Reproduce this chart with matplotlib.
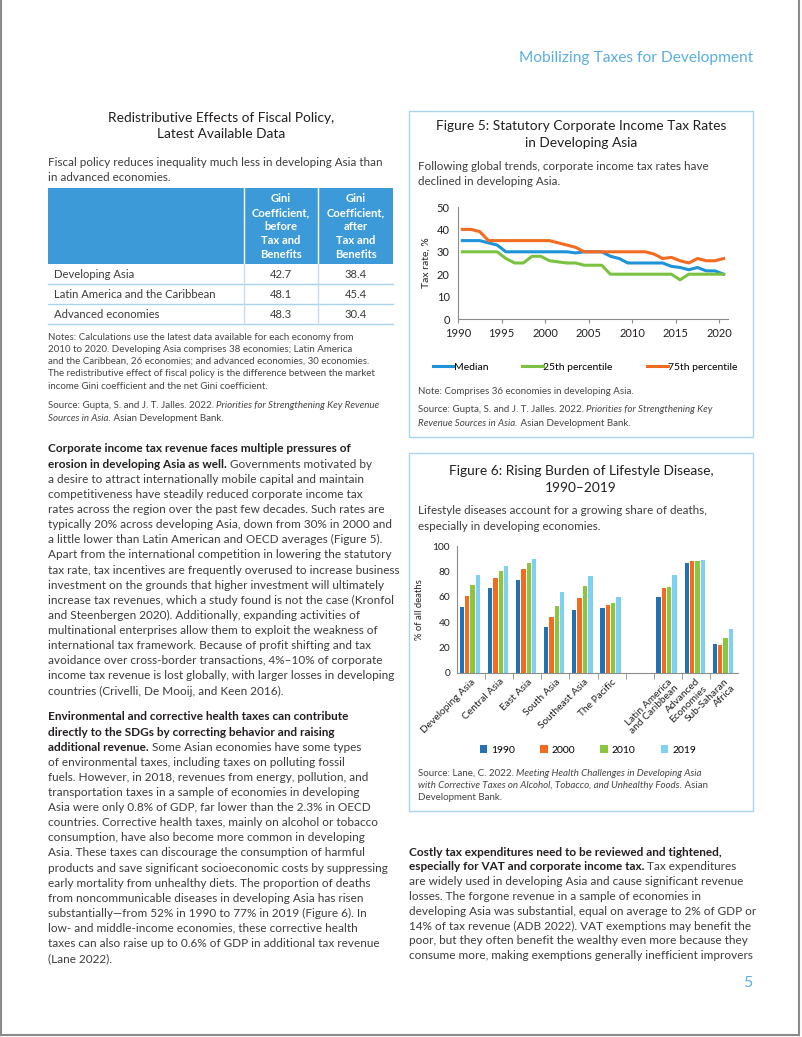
import matplotlib
matplotlib.use("Agg")
import matplotlib.pyplot as plt
from matplotlib.patches import Rectangle
import numpy as np

plt.rcParams['font.family'] = ['Lato', 'DejaVu Sans']

W, H = 802, 1037

# table: redistributive effects of fiscal policy
table_rows = ["Developing Asia", "Latin America and the Caribbean", "Advanced economies"]
gini_before = [42.7, 48.1, 48.3]
gini_after = [38.4, 45.4, 30.4]

# figure 5: statutory CIT rates (%)
years = np.arange(1990, 2021)
cit_median = [35, 35, 35, 34, 33, 30, 30, 30, 30, 30, 30, 30, 30, 29.5, 30, 30,
              30, 28, 27, 25, 25, 25, 25, 25, 23.5, 23, 22, 23, 21.5, 21.5, 20]
cit_p25 = [30, 30, 30, 30, 30, 27, 25, 25, 28, 28, 26, 25.5, 25, 25, 24, 24,
           24, 20, 20, 20, 20, 20, 20, 20, 20, 17.5, 20, 20, 20, 20, 20]
cit_p75 = [40, 40, 39, 35, 35, 35, 35, 35, 35, 35, 35, 34, 33, 32, 30, 30,
           30, 30, 30, 30, 30, 30, 29, 27, 27.5, 26, 25, 27, 26, 26, 27]

# figure 6: share of deaths from lifestyle disease (%)
regions = ["Developing Asia", "Central Asia", "East Asia", "South Asia",
           "Southeast Asia", "The Pacific", "Latin America\nand Caribbean",
           "Advanced\nEconomies", "Sub-Saharan\nAfrica"]
deaths_1990 = [52, 67, 73.5, 36, 49.5, 51, 59.5, 86.5, 22.5]
deaths_2000 = [61, 75, 82, 44, 59, 53.5, 67, 88, 22]
deaths_2010 = [69, 80, 86.5, 53, 68.5, 55, 68, 88.5, 27.5]
deaths_2019 = [77, 84, 89.5, 64, 76, 60, 77, 89, 35]

DARK = "#231f20"
BODY = "#3c3c3c"
NOTE = "#454545"
BLUE_HEAD = "#5aaee0"
BOX = "#a9d4ee"
TITLE_SZ = 9.9
SUB_SZ = 8.4
BODY_SZ = 8.45
NOTE_SZ = 7.0

fig = plt.figure(figsize=(W / 100, H / 100), dpi=100)
page = fig.add_axes([0, 0, 1, 1])
page.set_xlim(0, W)
page.set_ylim(H, 0)
page.axis("off")
renderer = fig.canvas.get_renderer()


def rich(x, y, parts, size, color=BODY):
    # parts: list of (text, weight, style)
    for txt, weight, style in parts:
        c = DARK if weight == "bold" else color
        t = page.text(x, y, txt, fontsize=size, fontweight=weight, fontstyle=style,
                      color=c, va="center", ha="left")
        x += t.get_window_extent(renderer=renderer).width


def para(x, y0, step, lines, size, color=BODY):
    for i, ln in enumerate(lines):
        if isinstance(ln, str):
            ln = [(ln, "normal", "normal")]
        rich(x, y0 + i * step, ln, size, color)


def box_axes(left, top, right, bottom):
    return fig.add_axes([left / W, 1 - bottom / H, (right - left) / W, (bottom - top) / H])


# page frame and header
page.plot([1, 1], [0, H - 2], color="#8a8a8a", lw=1.5)
page.plot([W - 3, W - 3], [0, H - 2], color="#8a8a8a", lw=1.5)
page.plot([1, W - 3], [H - 2, H - 2], color="#8a8a8a", lw=1.5)
page.text(753, 58, "Mobilizing Taxes for Development", fontsize=11.2, color=BLUE_HEAD,
          ha="right", va="center")
page.text(752, 983, "5", fontsize=11.5, color=BLUE_HEAD, ha="right", va="center")

# ---- left column: table ----
page.text(221, 118, "Redistributive Effects of Fiscal Policy,", fontsize=TITLE_SZ, color=DARK,
          ha="center", va="center")
page.text(221, 134, "Latest Available Data", fontsize=TITLE_SZ, color=DARK, ha="center", va="center")
para(48, 162, 15.5, ["Fiscal policy reduces inequality much less in developing Asia than",
                     "in advanced economies."], SUB_SZ)

tl, tr, c1, c2 = 48, 393, 244, 318
page.add_patch(Rectangle((tl, 188), tr - tl, 76, color="#3d9ad8", lw=0))
page.plot([c1, c1], [188, 264], color="white", lw=1)
page.plot([c2, c2], [188, 264], color="white", lw=1)
head = ["Gini", "Coefficient,", "", "Tax and", "Benefits"]
for i, h in enumerate(head):
    yy = 199 + i * 14
    page.text((c1 + c2) / 2, yy, "before" if i == 2 else h, fontsize=8.1, fontweight="bold",
              color="white", ha="center", va="center")
    page.text((c2 + tr) / 2, yy, "after" if i == 2 else h, fontsize=8.1, fontweight="bold",
              color="white", ha="center", va="center")
for i, name in enumerate(table_rows):
    yc = 274 + i * 20
    page.text(54, yc, name, fontsize=8.1, color=BODY, va="center")
    page.text((c1 + c2) / 2, yc, f"{gini_before[i]:.1f}", fontsize=8.1, color=BODY,
              ha="center", va="center")
    page.text((c2 + tr) / 2, yc, f"{gini_after[i]:.1f}", fontsize=8.1, color=BODY,
              ha="center", va="center")
    page.plot([tl, tr], [284 + i * 20, 284 + i * 20], color=BOX, lw=1)
page.plot([c1, c1], [264, 324], color="#c8dcea", lw=1)
page.plot([c2, c2], [264, 324], color="#c8dcea", lw=1)

para(48, 337, 12.3, [
    "Notes: Calculations use the latest data available for each economy from",
    "2010 to 2020. Developing Asia comprises 38 economies; Latin America",
    "and the Caribbean, 26 economies; and advanced economies, 30 economies.",
    "The redistributive effect of fiscal policy is the difference between the market",
    "income Gini coefficient and the net Gini coefficient."], NOTE_SZ, NOTE)
para(48, 406, 12.3, [
    [("Source: Gupta, S. and J. T. Jalles. 2022. ", "normal", "normal"),
     ("Priorities for Strengthening Key Revenue", "normal", "italic")],
    [("Sources in Asia.", "normal", "italic"), (" Asian Development Bank.", "normal", "normal")]],
    NOTE_SZ, NOTE)

# ---- left column: body text ----
para(48, 449, 15.13, [
    [("Corporate income tax revenue faces multiple pressures of", "bold", "normal")],
    [("erosion in developing Asia as well.", "bold", "normal"),
     (" Governments motivated by", "normal", "normal")],
    "a desire to attract internationally mobile capital and maintain",
    "competitiveness have steadily reduced corporate income tax",
    "rates across the region over the past few decades. Such rates are",
    "typically 20% across developing Asia, down from 30% in 2000 and",
    "a little lower than Latin American and OECD averages (Figure 5).",
    "Apart from the international competition in lowering the statutory",
    "tax rate, tax incentives are frequently overused to increase business",
    "investment on the grounds that higher investment will ultimately",
    "increase tax revenues, which a study found is not the case (Kronfol",
    "and Steenbergen 2020). Additionally, expanding activities of",
    "multinational enterprises allow them to exploit the weakness of",
    "international tax framework. Because of profit shifting and tax",
    "avoidance over cross-border transactions, 4%\u201310% of corporate",
    "income tax revenue is lost globally, with larger losses in developing",
    "countries (Crivelli, De Mooij, and Keen 2016)."], BODY_SZ)

para(48, 717, 15.1, [
    [("Environmental and corrective health taxes can contribute", "bold", "normal")],
    [("directly to the SDGs by correcting behavior and raising", "bold", "normal")],
    [("additional revenue.", "bold", "normal"),
     (" Some Asian economies have some types", "normal", "normal")],
    "of environmental taxes, including taxes on polluting fossil",
    "fuels. However, in 2018, revenues from energy, pollution, and",
    "transportation taxes in a sample of economies in developing",
    "Asia were only 0.8% of GDP, far lower than the 2.3% in OECD",
    "countries. Corrective health taxes, mainly on alcohol or tobacco",
    "consumption, have also become more common in developing",
    "Asia. These taxes can discourage the consumption of harmful",
    "products and save significant socioeconomic costs by suppressing",
    "early mortality from unhealthy diets. The proportion of deaths",
    "from noncommunicable diseases in developing Asia has risen",
    "substantially\u2014from 52% in 1990 to 77% in 2019 (Figure 6). In",
    "low- and middle-income economies, these corrective health",
    "taxes can also raise up to 0.6% of GDP in additional tax revenue",
    "(Lane 2022)."], BODY_SZ)

# ---- right column: figure 5 ----
page.add_patch(Rectangle((409, 111), 344, 326, fill=False, ec=BOX, lw=1))
page.text(581, 126, "Figure 5: Statutory Corporate Income Tax Rates", fontsize=TITLE_SZ,
          color=DARK, ha="center", va="center")
page.text(581, 143, "in Developing Asia", fontsize=TITLE_SZ, color=DARK, ha="center", va="center")
para(418, 166, 15.5, ["Following global trends, corporate income tax rates have",
                      "declined in developing Asia."], SUB_SZ)

ax5 = box_axes(458, 207, 728, 319)
ax5.plot(years + 0.5, cit_median, color="#1e93d9", lw=2.2, label="Median")
ax5.plot(years + 0.5, cit_p25, color="#7cc242", lw=2.2, label="25th percentile")
ax5.plot(years + 0.5, cit_p75, color="#f26b21", lw=2.2, label="75th percentile")
ax5.set_xlim(1990, 2021)
ax5.set_ylim(0, 50)
ax5.set_xticks(range(1990, 2021, 5))
ax5.set_yticks(range(0, 51, 10))
for s in ["top", "right"]:
    ax5.spines[s].set_visible(False)
for s in ["left", "bottom"]:
    ax5.spines[s].set_color("#8c8c8c")
ax5.tick_params(axis="x", labelsize=8, colors="#8c8c8c", labelcolor=DARK, length=3)
ax5.tick_params(axis="y", labelsize=8, length=0, labelcolor=DARK, pad=6)
ax5.set_ylabel("Tax rate, %", fontsize=7.5, color=DARK, labelpad=4)
ax5.legend(loc="center", bbox_to_anchor=(585 / W, 1 - 367 / H), bbox_transform=fig.transFigure,
           ncol=3, frameon=False, fontsize=7.5, handlelength=2.0, handletextpad=0.0,
           columnspacing=3.3)
para(418, 391, 13, ["Note: Comprises 36 economies in developing Asia."], NOTE_SZ, NOTE)
para(418, 410, 13, [
    [("Source: Gupta, S. and J. T. Jalles. 2022. ", "normal", "normal"),
     ("Priorities for Strengthening Key", "normal", "italic")],
    [("Revenue Sources in Asia.", "normal", "italic"), (" Asian Development Bank.", "normal", "normal")]],
    NOTE_SZ, NOTE)

# ---- right column: figure 6 ----
page.add_patch(Rectangle((409, 453), 344, 358, fill=False, ec=BOX, lw=1))
page.text(581, 471, "Figure 6: Rising Burden of Lifestyle Disease,", fontsize=TITLE_SZ,
          color=DARK, ha="center", va="center")
page.text(581, 488, "1990\u20132019", fontsize=TITLE_SZ, color=DARK, ha="center", va="center")
para(418, 511, 15.5, ["Lifestyle diseases account for a growing share of deaths,",
                      "especially in developing economies."], SUB_SZ)

ax6 = box_axes(457, 546, 738, 673)
idx = np.arange(len(regions))
pos = idx + (idx >= 6)  # empty slot between Asia and other regions
bw, pitch = 0.155, 0.19
series = [(deaths_1990, "#2271b3", "1990"), (deaths_2000, "#f26b21", "2000"),
          (deaths_2010, "#8cc63f", "2010"), (deaths_2019, "#7fd1f2", "2019")]
for k, (vals, col, lab) in enumerate(series):
    ax6.bar(pos + (k - 1.5) * pitch - 0.04, vals, width=bw, color=col, label=lab)
ax6.set_xlim(-0.5, 9.5)
ax6.set_ylim(0, 100)
ax6.set_yticks(range(0, 101, 20))
ax6.set_xticks(pos)
ax6.set_xticklabels(regions, rotation=45, ha="right", rotation_mode="anchor", fontsize=7.3,
                    color=DARK, linespacing=1.0)
ax6.set_xticks(np.arange(0.5, 9.5, 1), minor=True)
ax6.tick_params(axis="x", which="major", length=0, pad=3)
ax6.tick_params(axis="x", which="minor", length=4, color="#8c8c8c")
ax6.tick_params(axis="y", labelsize=7.3, length=0, labelcolor=DARK, pad=5)
for s in ["top", "right"]:
    ax6.spines[s].set_visible(False)
for s in ["left", "bottom"]:
    ax6.spines[s].set_color("#8c8c8c")
ax6.set_ylabel("% of all deaths", fontsize=6.8, color=DARK, labelpad=6)
ax6.legend(loc="center", bbox_to_anchor=(588 / W, 1 - 750 / H), bbox_transform=fig.transFigure,
           ncol=4, frameon=False, fontsize=7.5, handlelength=0.7, handleheight=0.7,
           handletextpad=0.4, columnspacing=2.4)
para(418, 773, 12.5, [
    [("Source: Lane, C. 2022. ", "normal", "normal"),
     ("Meeting Health Challenges in Developing Asia", "normal", "italic")],
    [("with Corrective Taxes on Alcohol, Tobacco, and Unhealthy Foods.", "normal", "italic"),
     (" Asian", "normal", "normal")],
    "Development Bank."], NOTE_SZ, NOTE)

# ---- right column: body text ----
para(409, 852, 14.8, [
    [("Costly tax expenditures need to be reviewed and tightened,", "bold", "normal")],
    [("especially for VAT and corporate income tax.", "bold", "normal"),
     (" Tax expenditures", "normal", "normal")],
    "are widely used in developing Asia and cause significant revenue",
    "losses. The forgone revenue in a sample of economies in",
    "developing Asia was substantial, equal on average to 2% of GDP or",
    "14% of tax revenue (ADB 2022). VAT exemptions may benefit the",
    "poor, but they often benefit the wealthy even more because they",
    "consume more, making exemptions generally inefficient improvers"], BODY_SZ)

fig.savefig("out.png", dpi=100)
